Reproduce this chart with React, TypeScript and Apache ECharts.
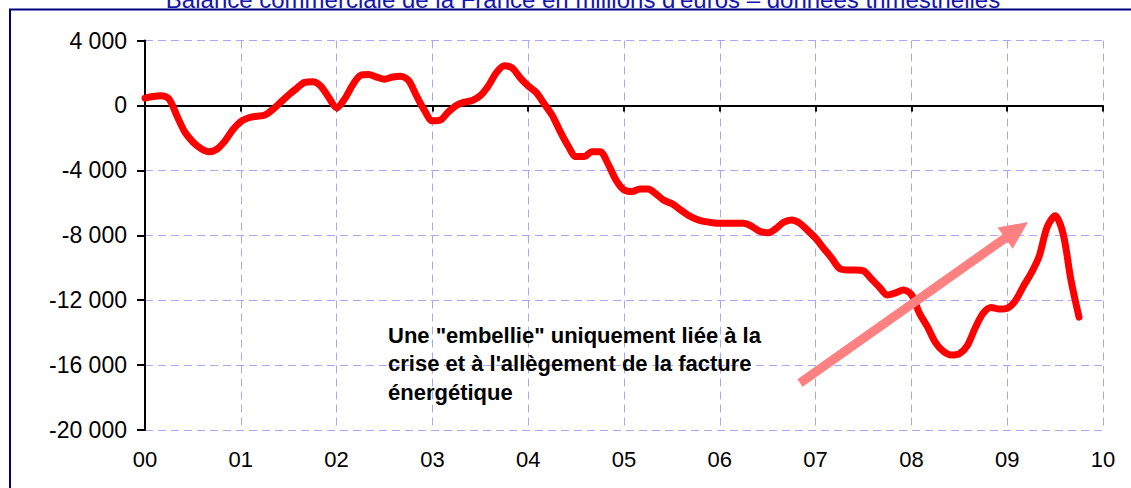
import React, { useEffect, useRef } from "react";
import * as echarts from "echarts";

// Monthly points (rolling quarterly trade balance, millions of euros), Jan 2000 onwards
const tradeBalance = [
  450, 550, 600, 400, -640, -1650, -2250, -2650, -2850, -2700, -2200, -1500,
  -1000, -760, -670, -600, -250, 200, 650, 1050, 1420, 1460, 1200, 500,
  -150, 400, 1250, 1850, 1900, 1750, 1620, 1750, 1800, 1550, 600, -300,
  -950, -900, -400, 0, 200, 300, 600, 1200, 2000, 2450, 2300, 1700,
  1200, 800, 100, -600, -1600, -2500, -3150, -3150, -2850, -2850, -3600, -4600,
  -5200, -5300, -5150, -5150, -5450, -5850, -6050, -6400, -6750, -7000, -7150, -7220,
  -7260, -7260, -7260, -7260, -7450, -7750, -7850, -7600, -7200, -7060, -7250, -7700,
  -8180, -8800, -9400, -10050, -10140, -10140, -10200, -10700, -11200, -11680, -11550, -11380,
  -11650, -12800, -13630, -14600, -15150, -15380, -15300, -14800, -13700, -12800, -12450, -12550,
  -12500, -12050, -11170, -10340, -9300, -7500, -6800, -7900, -10800, -13050,
];
const monthsPerYear = 12;
const yearLabels = ["00", "01", "02", "03", "04", "05", "06", "07", "08", "09", "10"];
const yMin = -20000;
const yMax = 4000;
const yStep = 4000;
const titleText =
  "Balance commerciale de la France en millions d'euros – données trimestrielles";
const noteLines = [
  'Une "embellie" uniquement liée à la',
  "crise et à l'allègement de la facture",
  "énergétique",
];

const FONT = "'Liberation Sans', Arial, sans-serif";

function fmtThousands(v: number): string {
  const s = Math.abs(v).toString().replace(/\B(?=(\d{3})+(?!\d))/g, " ");
  return (v < 0 ? "-" : "") + s;
}

export default function App() {
  const ref = useRef<HTMLDivElement>(null);

  useEffect(() => {
    if (!ref.current) return;
    const chart = echarts.init(ref.current, null, { renderer: "svg" });

    // arrow geometry (annotation)
    const tail = [800, 383];
    const tip = [1028, 222];
    const dx = tip[0] - tail[0];
    const dy = tip[1] - tail[1];
    const len = Math.sqrt(dx * dx + dy * dy);
    const ux = dx / len;
    const uy = dy / len;
    const px = -uy;
    const py = ux;
    const headLen = 28;
    const headHalf = 13;
    const base = [tip[0] - ux * headLen, tip[1] - uy * headLen];

    const gridDash = {
      show: true,
      lineStyle: { color: "#a8a8f8", width: 1, type: [8, 5] as any },
    };

    chart.setOption({
      animation: false,
      backgroundColor: "#ffffff",
      grid: { left: 145, top: 40.5, right: 28, bottom: 58, containLabel: false },
      xAxis: [
        {
          type: "value",
          position: "bottom",
          min: 0,
          max: 10,
          interval: 1,
          axisLine: { show: false, onZero: false },
          axisTick: { show: false },
          axisLabel: {
            show: true,
            margin: 18,
            fontSize: 22,
            fontFamily: FONT,
            color: "#000",
            formatter: (v: number) => yearLabels[Math.round(v)] ?? "",
          },
          splitLine: gridDash,
        },
        {
          type: "value",
          position: "top",
          min: 0,
          max: 10,
          interval: 1,
          axisLine: { show: true, onZero: true, lineStyle: { color: "#000", width: 2 } },
          axisTick: { show: true, inside: true, length: 6, lineStyle: { color: "#000", width: 2 } },
          axisLabel: { show: false },
          splitLine: { show: false },
        },
      ],
      yAxis: {
        type: "value",
        min: yMin,
        max: yMax,
        interval: yStep,
        axisLine: { show: true, onZero: false, lineStyle: { color: "#000", width: 2 } },
        axisTick: { show: true, length: 8, lineStyle: { color: "#000", width: 2 } },
        axisLabel: {
          margin: 18,
          fontSize: 23,
          fontFamily: FONT,
          color: "#000",
          formatter: (v: number) => fmtThousands(v),
        },
        splitLine: gridDash,
      },
      series: [
        {
          type: "line",
          xAxisIndex: 0,
          data: tradeBalance.map((v, i) => [i / monthsPerYear, v]),
          showSymbol: false,
          smooth: 0.3,
          lineStyle: { color: "#ff0000", width: 7, cap: "round", join: "round" },
          z: 5,
        },
      ],
      graphic: [
        {
          type: "rect",
          shape: { x: 10, y: 9.5, width: 1300, height: 700 },
          style: { fill: "none", stroke: "#000080", lineWidth: 2 },
          silent: true,
          z: 1,
        },
        {
          type: "text",
          x: 583,
          y: -1,
          style: {
            text: titleText,
            fill: "#1414b4",
            font: `24px ${FONT}`,
            align: "center",
            verticalAlign: "middle",
          },
          z: 10,
        },
        {
          type: "text",
          x: 388,
          y: 321,
          style: {
            text: noteLines.join("\n"),
            fill: "#000",
            font: `bold 22px ${FONT}`,
            lineHeight: 28.5,
            align: "left",
            verticalAlign: "top",
          },
          z: 10,
        },
        {
          type: "line",
          shape: { x1: tail[0], y1: tail[1], x2: base[0] + ux * 2, y2: base[1] + uy * 2 },
          style: { stroke: "#ff8080", lineWidth: 9, lineCap: "butt" },
          z: 10,
        },
        {
          type: "polygon",
          shape: {
            points: [
              [tip[0], tip[1]],
              [base[0] + px * headHalf, base[1] + py * headHalf],
              [base[0] - px * headHalf, base[1] - py * headHalf],
            ],
          },
          style: { fill: "#ff8080" },
          z: 10,
        },
      ],
    });

    return () => chart.dispose();
  }, []);

  return (
    <div
      ref={ref}
      style={{ position: "fixed", left: 0, top: 0, width: 1131, height: 488 }}
    />
  );
}
